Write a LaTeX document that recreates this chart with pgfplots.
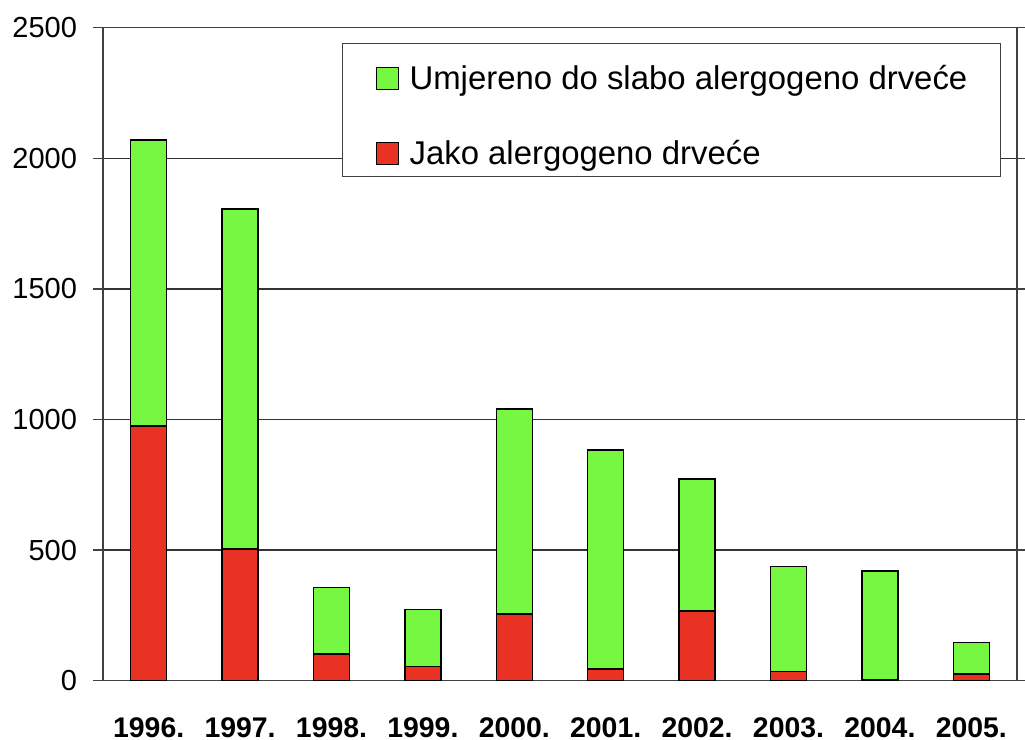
\documentclass[border=0pt]{standalone}
\usepackage{pgfplots}
\pgfplotsset{compat=1.18}
\usepackage{fontspec}
\setmainfont{Liberation Sans}
\definecolor{mygreen}{RGB}{118,248,66}
\definecolor{myred}{RGB}{234,50,36}
\begin{document}
\begin{tikzpicture}
\useasboundingbox (-51.5pt,-29.65pt) rectangle (461pt,340.35pt);
\begin{axis}[
  at={(0,0)}, anchor=south west,
  scale only axis, width=457pt, height=326.5pt,
  ybar stacked, bar width=18pt,
  xmin=-0.5, xmax=9.5, ymin=0, ymax=2500,
  xtick={0,...,9},
  xticklabels={1996.,1997.,1998.,1999.,2000.,2001.,2002.,2003.,2004.,2005.},
  x tick style={draw=none},
  ytick={0,500,...,2500},
  ymajorgrids,
  grid style={black!80, line width=0.7pt},
  axis line style={black!75, line width=0.7pt},
  tick align=outside, major tick length=5pt,
  y tick style={black!75, line width=0.7pt},
  /pgf/number format/1000 sep={},
  /pgf/number format/assume math mode=true,
  y tick label style={font=\fontsize{14.5}{16}\selectfont, anchor=east, xshift=-4.5pt},
  x tick label style={font=\fontsize{14.2}{16}\selectfont\bfseries, anchor=base, yshift=-23.2pt},
  every axis plot/.append style={draw=black, line width=0.75pt},
  reverse legend,
  legend image code/.code={\draw[#1, draw=black, line width=0.5pt] (10.5pt,-8.5pt) rectangle (21.5pt,2.5pt);},
  legend style={
    at={(1,1)}, anchor=north east, xshift=-8pt, yshift=-7.5pt,
    draw=black!75, line width=0.6pt,
    font=\fontsize{16.45}{19}\selectfont,
    inner xsep=16.5pt, inner ysep=3pt,
    row sep=14.5pt,
    nodes={inner sep=0pt, text height=20pt, text depth=3pt},
    /tikz/every odd column/.append style={column sep=5.5pt},
    cells={anchor=west},
  },
]
\addplot[fill=myred] coordinates {(0,975) (1,505) (2,102) (3,54) (4,255) (5,44) (6,267) (7,36) (8,5) (9,25)};
\addplot[fill=mygreen] coordinates {(0,1095) (1,1300) (2,254) (3,218) (4,785) (5,840) (6,505) (7,401) (8,415) (9,121)};
\legend{Jako alergogeno drveće, Umjereno do slabo alergogeno drveće}
\end{axis}
\end{tikzpicture}
\end{document}
